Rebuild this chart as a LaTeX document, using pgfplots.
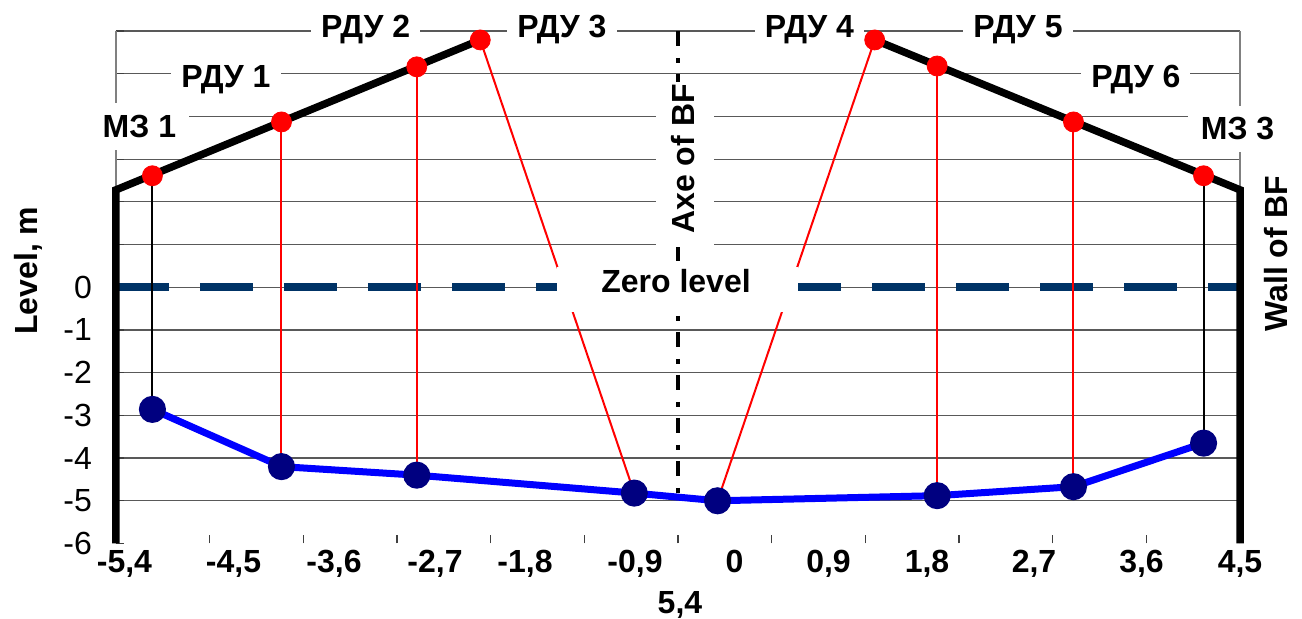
\documentclass[border=0pt]{standalone}
\usepackage{pgfplots}
\pgfplotsset{compat=1.18}
\usepackage{fontspec}
\setmainfont{Liberation Sans}
\definecolor{zeroblue}{HTML}{003366}
\definecolor{dotnavy}{HTML}{000080}
\newcommand\lab{\fontsize{16}{19}\selectfont\bfseries}
\newcommand\num{\fontsize{16}{19}\selectfont}

\begin{document}
\begin{tikzpicture}
\useasboundingbox (-58pt,-37.75pt) rectangle (593pt,271.75pt);
\begin{axis}[
    scale only axis,
    width=562pt, height=256.25pt,
    xmin=-5.4, xmax=5.4,
    ymin=-6, ymax=6,
    clip=false,
    separate axis lines,
    x axis line style={draw=none},
    y axis line style={draw=gray, line width=1pt},
    xtick pos=left, ytick pos=left,
    tick style={black!75, line width=0.6pt},
    major tick length=4pt,
    xtick={-5.4,-4.5,-3.6,-2.7,-1.8,-0.9,0,0.9,1.8,2.7,3.6,4.5,5.4},
    xticklabels={},
    extra x ticks={-5.319,-4.271,-3.305,-2.335,-1.470,-0.413,0.543,1.446,2.393,3.421,4.454,5.400},
    extra x tick labels={{-5,4},{-4,5},{-3,6},{-2,7},{-1,8},{-0,9},{0},{0,9},{1,8},{2,7},{3,6},{4,5}},
    extra x tick style={major tick length=0pt, xticklabel style={font=\lab}},
    ytick={-5,-4,-3,-2,-1,0,1,2,3,4,5,6},
    yticklabels={-5,-4,-3,-2,-1,0,,,,,,},
    extra y ticks={-6},
    extra y tick labels={-6},
    extra y tick style={grid=none},
    yticklabel style={font=\num, xshift=-8.5pt},
    ymajorgrids=true,
    grid style={black!65, line width=0.6pt},
]

% zero level
\addplot[zeroblue, line width=3.75pt, dash pattern=on 26.5pt off 15.5pt]
    coordinates {(-5.4,0) (5.4,0)};

% level gauges on the roof
\addplot[only marks, mark=*, mark size=5pt, mark options={fill=red, draw=red}]
    coordinates {
    (-5.05,2.61) (-3.81,3.87) (-2.51,5.16) (-1.90,5.79)
    (1.89,5.79) (2.49,5.18) (3.80,3.87) (5.05,2.61)
    };

% roof and walls
\addplot[black, line width=3.75pt] coordinates {(-5.4,-6) (-5.4,2.28) (-1.90,5.79)};
\addplot[black, line width=3.75pt] coordinates {(1.89,5.79) (5.4,2.28) (5.4,-6)};

% gauge lines
\addplot[black, line width=1pt] coordinates {(-5.05,2.61) (-5.05,-2.86)};
\addplot[red, line width=1pt] coordinates {(-3.81,3.87) (-3.81,-4.20)};
\addplot[red, line width=1pt] coordinates {(-2.51,5.16) (-2.51,-4.40)};
\addplot[red, line width=1pt] coordinates {(-1.90,5.79) (-0.42,-4.82)};
\addplot[red, line width=1pt] coordinates {(1.89,5.79) (0.38,-5.00)};
\addplot[red, line width=1pt] coordinates {(2.49,5.18) (2.49,-4.88)};
\addplot[red, line width=1pt] coordinates {(3.80,3.87) (3.80,-4.67)};
\addplot[black, line width=1pt] coordinates {(5.05,2.61) (5.05,-3.65)};

% stock level profile
\addplot[blue, line width=3.5pt, mark=*, mark size=5pt, mark options={fill=dotnavy, draw=dotnavy}]
    coordinates {
    (-5.05,-2.86) (-3.81,-4.20) (-2.51,-4.40) (-0.42,-4.82)
    (0.38,-5.00) (2.49,-4.88) (3.80,-4.67) (5.05,-3.65)
    };

% axis of the furnace
\addplot[black, line width=1.7pt, dash pattern=on 7.5pt off 6pt on 2.5pt off 5.5pt]
    coordinates {(0,6) (0,-5)};

% labels
\fill[white] (axis cs:-1.163,0.475) rectangle (axis cs:1.153,-0.578);
\node[font=\lab, anchor=base] at (axis cs:-0.019,-0.133) {Zero level};
\fill[white] (axis cs:-0.211,4.81) rectangle (axis cs:0.346,0.944);
\node[font=\lab, anchor=base, rotate=90] at (axis cs:0.163,3.005) {Axe of BF};

\node[font=\lab, anchor=base, fill=white, inner xsep=6.5pt, inner ysep=6pt] at (axis cs:-5.175,3.513) {МЗ 1};
\node[font=\lab, anchor=base, fill=white, inner xsep=5pt, inner ysep=6pt] at (axis cs:-4.343,4.684) {РДУ 1};
\node[font=\lab, anchor=base, fill=white, inner xsep=5pt, inner ysep=6pt] at (axis cs:-3.001,5.855) {РДУ 2};
\node[font=\lab, anchor=base, fill=white, inner xsep=5pt, inner ysep=6pt] at (axis cs:-1.115,5.855) {РДУ 3};
\node[font=\lab, anchor=base, fill=white, inner xsep=5pt, inner ysep=6pt] at (axis cs:1.263,5.845) {РДУ 4};
\node[font=\lab, anchor=base, fill=white, inner xsep=5pt, inner ysep=6pt] at (axis cs:3.267,5.855) {РДУ 5};
\node[font=\lab, anchor=base, fill=white, inner xsep=5pt, inner ysep=6pt] at (axis cs:4.400,4.684) {РДУ 6};
\node[font=\lab, anchor=base, fill=white, inner xsep=6.5pt, inner ysep=6pt] at (axis cs:5.377,3.45) {МЗ 3};

\node[font=\lab, anchor=base, rotate=90] at (axis cs:-6.150,0.39) {Level, m};
\node[font=\lab, anchor=base, rotate=90] at (axis cs:5.861,0.78) {Wall of BF};
\node[font=\lab, anchor=base] at (axis cs:0.019,-7.628) {5,4};
\end{axis}
\end{tikzpicture}
\end{document}
